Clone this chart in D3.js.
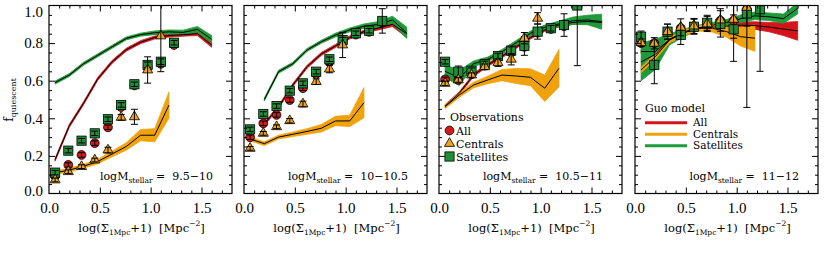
<!DOCTYPE html>
<html><head><meta charset="utf-8">
<script src="https://cdn.jsdelivr.net/npm/d3@7"></script>
<style>body{margin:0;background:#fff} svg{display:block}</style>
</head><body><svg id="c" width="830" height="259"></svg>
<script>
// ---------------- data ----------------
const obsX   = [0.06,0.19,0.32,0.45,0.58,0.71,0.84,0.97,1.10,1.23,1.36];
const modelX = [0.06,0.20,0.34,0.48,0.62,0.76,0.90,1.04,1.18,1.32,1.46,1.60];
const xTicks = [0.0,0.5,1.0,1.5];
const yTicks = [0.0,0.2,0.4,0.6,0.8,1.0];
const massBins = ["9.5\u221210","10\u221210.5","10.5\u221211","11\u221212"];
const legendObs = ["All","Centrals","Satellites"];
const legendModel = ["All","Centrals","Satellites"];

// observations: all / centrals / satellites, one row per panel
const obsAll = [
  [0.093,0.152,0.205,0.268,0.352,0.46,0.575,0.67,0.69,0.79,null],
  [0.299,0.373,0.418,0.497,0.56,0.635,0.70,0.805,0.845,0.86,0.91],
  [0.607,0.604,0.635,0.68,0.72,0.75,0.78,0.855,0.875,0.89,null],
  [0.80,0.80,0.86,0.88,0.89,0.90,0.92,0.92,0.98,null,null]];
const obsAllErr = [
  [0.01,0.012,0.012,0.012,0.012,0.012,0.012,0.012,0.012,0.012,null],
  [0.012,0.012,0.012,0.012,0.012,0.012,0.012,0.012,0.012,0.012,0.012],
  [0.012,0.012,0.012,0.012,0.012,0.012,0.012,0.012,0.012,0.012,null],
  [0.012,0.012,0.012,0.012,0.012,0.012,0.012,0.03,0.03,null,null]];
const obsCen = [
  [0.072,0.116,0.143,0.178,0.231,0.405,0.408,0.657,0.838,null,null],
  [0.24,0.32,0.355,0.387,0.476,0.595,0.662,0.79,null,null,null],
  [0.586,0.604,0.63,0.674,0.696,0.714,0.826,0.932,null,null,null],
  [0.802,0.799,0.861,0.884,0.891,0.902,0.923,0.926,0.99,null,null]];
const obsCenErr = [
  [0.01,0.01,0.01,0.01,0.015,0.015,0.04,0.07,0.19,null,null],
  [0.01,0.01,0.01,0.012,0.015,0.015,0.02,0.067,null,null,null],
  [0.012,0.012,0.012,0.015,0.02,0.03,0.03,0.03,null,null,null],
  [0.02,0.03,0.04,0.045,0.04,0.04,0.06,0.1,0.1,null,null]];
const obsSat = [
  [0.111,0.228,0.281,0.320,0.395,0.471,0.581,0.684,0.701,0.802,null],
  [0.341,0.423,0.465,0.547,0.586,0.648,0.714,0.816,0.852,0.866,0.918],
  [0.701,0.648,0.653,0.689,0.731,0.76,0.785,0.861,0.879,0.896,1.0],
  [0.834,0.684,0.861,0.843,0.887,0.908,0.902,0.873,0.958,0.98,null]];
const obsSatErr = [
  [0.012,0.012,0.012,0.012,0.012,0.012,0.012,0.015,0.015,0.012,null],
  [0.012,0.012,0.012,0.012,0.012,0.012,0.012,0.015,0.012,0.012,0.065],
  [0.012,0.03,0.015,0.015,0.015,0.02,0.05,0.04,0.015,0.06,0.32],
  [0.03,0.1,0.04,0.05,0.04,0.04,0.07,0.17,0.5,0.33,null]];

// Guo model: centre lines and half-widths of the bands
const modAll = [
  [0.18,0.36,0.48,0.61,0.70,0.765,0.805,0.83,0.84,0.845,0.85,0.79],
  [null,0.37,0.46,0.577,0.674,0.742,0.785,0.83,0.861,0.88,0.90,0.85],
  [0.465,0.533,0.63,0.684,0.73,0.78,0.83,0.87,0.896,0.91,0.915,0.91],
  [0.755,0.755,0.82,0.86,0.88,0.885,0.89,0.895,0.893,0.885,0.875,0.865]];
const modAllBand = [
  [0.008,0.008,0.008,0.008,0.008,0.008,0.008,0.008,0.008,0.008,0.01,0.012],
  [null,0.008,0.008,0.008,0.008,0.008,0.008,0.008,0.008,0.01,0.012,0.02],
  [0.008,0.008,0.008,0.008,0.008,0.008,0.008,0.008,0.01,0.01,0.012,0.015],
  [0.01,0.01,0.01,0.01,0.01,0.01,0.012,0.018,0.02,0.025,0.035,0.05]];
const modCen = [
  [0.11,0.125,0.145,0.17,0.21,0.25,0.31,0.31,0.47,null,null,null],
  [0.29,0.265,0.30,0.315,0.33,0.347,0.386,0.386,0.483,null,null,null],
  [0.462,0.524,0.577,0.604,0.63,0.625,0.618,0.56,0.666,null,null,null],
  [0.657,0.728,0.816,0.855,0.879,0.879,0.861,0.834,0.826,null,null,null]];
const modCenBand = [
  [0.008,0.01,0.01,0.012,0.015,0.02,0.03,0.035,0.07,null,null,null],
  [0.01,0.01,0.01,0.012,0.015,0.02,0.025,0.03,0.08,null,null,null],
  [0.01,0.012,0.015,0.02,0.03,0.04,0.045,0.07,0.1,null,null,null],
  [0.015,0.015,0.015,0.015,0.015,0.02,0.03,0.05,0.07,null,null,null]];
const modSat = [
  [0.59,0.63,0.69,0.735,0.78,0.825,0.845,0.855,0.86,0.857,0.873,0.82],
  [null,0.50,0.648,0.69,0.763,0.807,0.843,0.87,0.89,0.899,0.923,0.855],
  [0.65,0.615,0.69,0.714,0.754,0.802,0.852,0.884,0.902,0.919,0.923,0.914],
  [0.70,0.74,0.82,0.855,0.88,0.895,0.91,0.93,0.945,0.94,0.93,0.985]];
const modSatBand = [
  [0.008,0.008,0.008,0.008,0.008,0.008,0.008,0.01,0.01,0.012,0.015,0.02],
  [null,0.008,0.008,0.008,0.008,0.008,0.01,0.01,0.012,0.015,0.02,0.03],
  [0.035,0.04,0.015,0.012,0.012,0.012,0.012,0.012,0.015,0.02,0.025,0.04],
  [0.1,0.08,0.03,0.02,0.015,0.015,0.015,0.02,0.02,0.02,0.025,0.03]];

// ---------------- drawing ----------------
const C = {red:"#d4141a", orange:"#f0a20c", green:"#1e9a3a", gMark:"#1f8f38", oMark:"#f0a418", rMark:"#d41a1a"};
const svg = d3.select("#c");
const panelLeft = [49,244,439,635], PW = 183, TOP = 5.5, BOT = 193.5;
const SERIF = "'DejaVu Serif', serif";
const TICKFONT = "'Liberation Serif', serif";
const y = d3.scaleLinear().domain([0,1]).range([BOT,TOP]);

function markers(g, x, vals, errs, kind){
  const pts = obsX.map((xv,i)=>({x:xv,v:vals[i],e:errs[i]})).filter(d=>d.v!=null);
  const mg = g.append("g");
  if(kind==="c"){
    mg.selectAll("circle").data(pts).join("circle")
      .attr("cx",d=>x(d.x)).attr("cy",d=>y(d.v)).attr("r",4.4)
      .attr("fill",C.rMark).attr("stroke","#000").attr("stroke-width",0.8);
  } else if(kind==="s"){
    mg.selectAll("rect").data(pts).join("rect")
      .attr("x",d=>x(d.x)-4.6).attr("y",d=>y(d.v)-4.6).attr("width",9.2).attr("height",9.2)
      .attr("fill",C.gMark).attr("stroke","#000").attr("stroke-width",0.8);
  } else {
    mg.selectAll("path").data(pts).join("path")
      .attr("d",d3.symbol(d3.symbolTriangle,44))
      .attr("transform",d=>`translate(${x(d.x)},${y(d.v)})`)
      .attr("fill",C.oMark).attr("stroke","#000").attr("stroke-width",0.8);
  }
  const eg = g.append("g").attr("stroke","#000").attr("stroke-width",1);
  pts.forEach(d=>{
    const X=x(d.x), y0=y(d.v-d.e), y1=y(d.v+d.e);
    eg.append("line").attr("x1",X).attr("x2",X).attr("y1",y0).attr("y2",y1);
    eg.append("line").attr("x1",X-3.5).attr("x2",X+3.5).attr("y1",y0).attr("y2",y0);
    eg.append("line").attr("x1",X-3.5).attr("x2",X+3.5).attr("y1",y1).attr("y2",y1);
  });
}

panelLeft.forEach((L,p)=>{
  const x = d3.scaleLinear().domain([0,1.8]).range([L,L+PW]);
  const g = svg.append("g");
  const cid = "clip"+p;
  svg.append("clipPath").attr("id",cid).append("rect")
    .attr("x",L).attr("y",TOP).attr("width",PW).attr("height",BOT-TOP);
  const pg = g.append("g").attr("clip-path",`url(#${cid})`);

  // model bands
  const band = (vals,bw,col)=>{
    const data = modelX.map((xv,i)=>({x:xv,v:vals[i],b:bw[i]}));
    pg.append("path").datum(data)
      .attr("d",d3.area().defined(d=>d.v!=null).x(d=>x(d.x)).y0(d=>y(d.v-d.b)).y1(d=>y(d.v+d.b)))
      .attr("fill",col).attr("stroke",col).attr("stroke-width",0.8);
  };
  const cline = (vals)=>{
    const data = modelX.map((xv,i)=>({x:xv,v:vals[i]}));
    pg.append("path").datum(data)
      .attr("d",d3.line().defined(d=>d.v!=null).x(d=>x(d.x)).y(d=>y(d.v)))
      .attr("fill","none").attr("stroke","#000").attr("stroke-width",1);
  };
  band(modAll[p],modAllBand[p],C.red);
  band(modSat[p],modSatBand[p],C.green);
  band(modCen[p],modCenBand[p],C.orange);
  cline(modAll[p]); cline(modSat[p]); cline(modCen[p]);

  markers(pg,x,obsAll[p],obsAllErr[p],"c");
  markers(pg,x,obsSat[p],obsSatErr[p],"s");
  markers(pg,x,obsCen[p],obsCenErr[p],"t");

  // box
  g.append("rect").attr("x",L).attr("y",TOP).attr("width",PW).attr("height",BOT-TOP)
    .attr("fill","none").attr("stroke","#000").attr("stroke-width",1.2);

  // inward ticks
  const xMinor = d3.range(1,18).map(i=>i/10).filter(v=>Math.abs(v*2-Math.round(v*2))>1e-6);
  const xMajor = [0.5,1.0,1.5];
  const yMinor = d3.range(1,20).map(i=>i/20).filter(v=>Math.abs(v*5-Math.round(v*5))>1e-6);
  const yMajor = [0.2,0.4,0.6,0.8];
  const tk = (axis, tr)=>{ const a=g.append("g").attr("transform",tr).call(axis); a.select(".domain").remove(); a.selectAll("line").attr("stroke","#000"); a.selectAll("text").remove(); };
  tk(d3.axisTop(x).tickValues(xMinor).tickSize(3), `translate(0,${BOT})`);
  tk(d3.axisTop(x).tickValues(xMajor).tickSize(6), `translate(0,${BOT})`);
  tk(d3.axisBottom(x).tickValues(xMinor).tickSize(3), `translate(0,${TOP})`);
  tk(d3.axisBottom(x).tickValues(xMajor).tickSize(6), `translate(0,${TOP})`);
  tk(d3.axisRight(y).tickValues(yMinor).tickSize(3), `translate(${L},0)`);
  tk(d3.axisRight(y).tickValues(yMajor).tickSize(6), `translate(${L},0)`);
  tk(d3.axisLeft(y).tickValues(yMinor).tickSize(3), `translate(${L+PW},0)`);
  tk(d3.axisLeft(y).tickValues(yMajor).tickSize(6), `translate(${L+PW},0)`);

  // x tick labels
  const xl = g.append("g").attr("transform",`translate(0,${BOT})`)
    .call(d3.axisBottom(x).tickValues(xTicks).tickSize(0).tickPadding(9).tickFormat(d3.format(".1f")));
  xl.select(".domain").remove();
  xl.selectAll("text").attr("font-family",TICKFONT).attr("font-size",15).attr("fill","#000");

  if(p===0){
    const yl = g.append("g").attr("transform",`translate(${L},0)`)
      .call(d3.axisLeft(y).tickValues(yTicks).tickSize(0).tickPadding(6).tickFormat(d3.format(".1f")));
    yl.select(".domain").remove();
    yl.selectAll("text").attr("font-family",TICKFONT).attr("font-size",15).attr("fill","#000");
    // keep the outermost labels inside the picture, as in the reference
    yl.selectAll(".tick").filter(d=>d===1.0).select("text").attr("dy","0.7em");
    yl.selectAll(".tick").filter(d=>d===0.0).select("text").attr("dy","0.15em");
  }

  // x axis title
  const t = g.append("text").attr("x",L+PW/2+1).attr("y",232).attr("text-anchor","middle")
    .attr("font-family",SERIF).attr("font-size",11.5);
  t.append("tspan").text("log(\u03A3");
  t.append("tspan").attr("font-size",7.5).attr("dy",3).text("1Mpc");
  t.append("tspan").attr("dy",-3).text("+1)\u00A0\u00A0[Mpc");
  t.append("tspan").attr("font-size",7.5).attr("dy",-6).text("\u22122");
  t.append("tspan").attr("dy",6).text("]");

  // mass label
  const m = g.append("text").attr("x",L+PW-19).attr("y",180).attr("text-anchor","end")
    .attr("font-family",SERIF).attr("font-size",11);
  m.append("tspan").text("logM");
  m.append("tspan").attr("font-size",7.5).attr("dy",2.5).text("stellar");
  m.append("tspan").attr("dy",-2.5).text("\u00A0=\u00A0\u00A0"+massBins[p]);

  if(p===2){
    const lg = g.append("g").attr("font-family",SERIF).attr("font-size",11);
    lg.append("text").attr("x",450).attr("y",121).text("Observations");
    const ys=[130.5,143.5,156.5];
    lg.append("circle").attr("cx",449.5).attr("cy",ys[0]).attr("r",4.4).attr("fill",C.rMark).attr("stroke","#000").attr("stroke-width",0.8);
    lg.append("path").attr("d",d3.symbol(d3.symbolTriangle,44)).attr("transform",`translate(449.5,${ys[1]})`).attr("fill",C.oMark).attr("stroke","#000").attr("stroke-width",0.8);
    lg.append("rect").attr("x",444.9).attr("y",ys[2]-4.6).attr("width",9.2).attr("height",9.2).attr("fill",C.gMark).attr("stroke","#000").attr("stroke-width",0.8);
    legendObs.forEach((s,i)=>lg.append("text").attr("x",456).attr("y",ys[i]+4).text(s));
  }
  if(p===3){
    const lg = g.append("g").attr("font-family",SERIF).attr("font-size",10.5);
    lg.append("text").attr("x",645).attr("y",111.5).attr("font-size",11).text("Guo model");
    const ys=[122.8,134.3,145.8], cols=[C.red,C.orange,C.green];
    legendModel.forEach((s,i)=>{
      lg.append("line").attr("x1",645).attr("x2",687).attr("y1",ys[i]).attr("y2",ys[i]).attr("stroke",cols[i]).attr("stroke-width",3);
      lg.append("text").attr("x",693).attr("y",ys[i]+3.6).text(s);
    });
  }
});

// y axis title
const yt = svg.append("text").attr("transform","translate(13,100) rotate(-90)").attr("text-anchor","middle")
  .attr("font-family",SERIF).attr("font-size",12);
yt.append("tspan").text("f");
yt.append("tspan").attr("font-size",8).attr("dy",3).text("quiescent");
</script></body></html>
